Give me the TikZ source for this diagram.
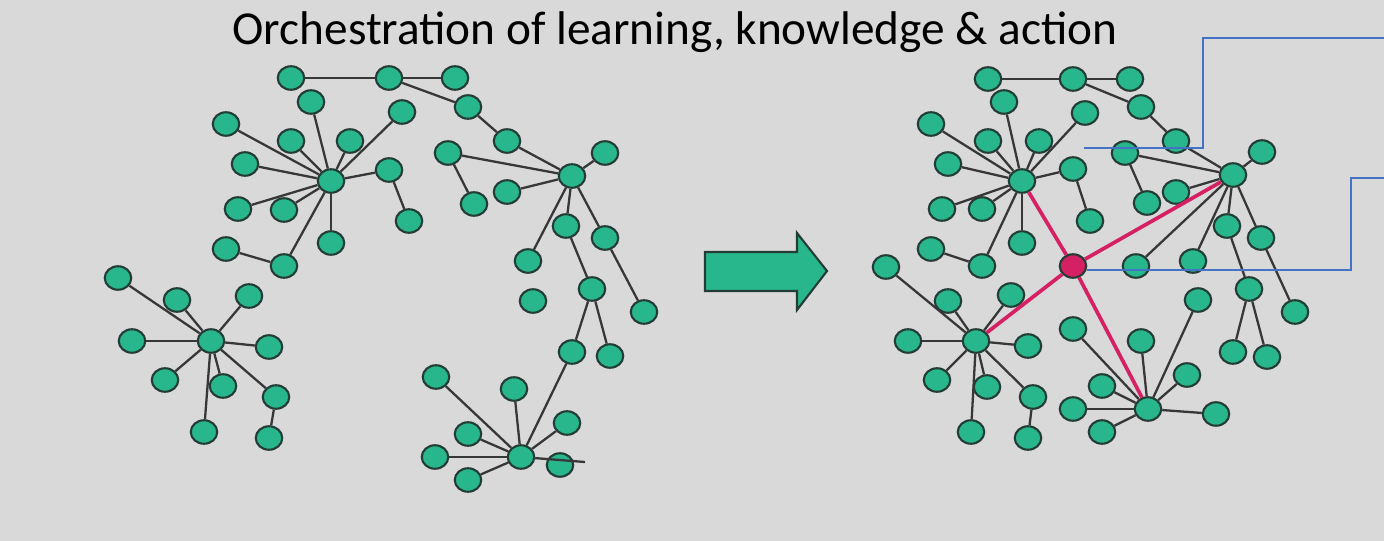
\documentclass[tikz,border=0pt]{standalone}
\usepackage{fontspec}
\setmainfont{Carlito}
\usetikzlibrary{shapes.geometric}
\definecolor{bggray}{RGB}{217,217,217}
\definecolor{nodegreen}{RGB}{40,182,140}
\definecolor{nodeedge}{RGB}{35,60,52}
\definecolor{linkgray}{RGB}{55,55,55}
\definecolor{hubred}{RGB}{214,32,100}
\definecolor{callblue}{RGB}{68,114,196}

\begin{document}
\begin{tikzpicture}[x=0.02cm, y=-0.02cm,
    dot/.style={ellipse, fill=nodegreen, draw=nodeedge, line width=1.2pt,
      minimum width=0.53cm, minimum height=0.47cm, inner sep=0pt},
    hotdot/.style={dot, fill=hubred},
    link/.style={draw=linkgray, line width=1.3pt},
    hotlink/.style={draw=hubred, line width=2.1pt},
    callout/.style={draw=callblue, line width=0.6pt}]
    \fill[bggray] (0,0) rectangle (1384,541);
    \useasboundingbox (0,0) rectangle (1384,541);

    \node[anchor=base, font=\fontsize{26.9}{30}\selectfont] (title) at (675,45)
      {Orchestration of learning, knowledge \& action};

    % before
    \foreach \n/\x/\y in {la/331/181, lb/572/176, lc/521/457, ld/211/341,
        l1/291/78, l2/389/78, l3/455/78, l4/311/102, l5/468/107, l6/402/112,
        l7/226/124, l8/291/141, l9/350/141, l10/507/141, l11/448/153,
        l12/605/153, l13/245/164, l14/389/170, l15/507/192, l16/474/204,
        l17/238/209, l18/284/210, l19/409/221, l20/566/226, l21/605/238,
        l22/331/243, l23/226/249, l24/528/261, l25/284/266, l26/118/278,
        l27/592/289, l28/249/296, l29/177/300, l30/533/301, l31/644/312,
        l32/132/341, l33/269/347, l34/572/352, l35/610/356, l36/436/377,
        l37/165/380, l38/223/386, l39/514/389, l40/276/397, l41/567/423,
        l42/468/434, l43/204/432, l44/269/438, l45/435/457, l46/560/465,
        l47/468/480}
      \node[dot] (\n) at (\x,\y) {};
    \coordinate (lend) at (585,462);
    \foreach \a/\b in {l1/l2, l2/l3, l2/l5, l5/l10, l10/lb,
        la/l4, la/l7, la/l8, la/l9, la/l6, la/l13, la/l14, la/l17, la/l18,
        la/l22, la/l25, l14/l19, l23/l25,
        lb/l11, lb/l15, lb/l12, lb/l24, lb/l20, lb/l21,
        l11/l16, l20/l27, l21/l31, l27/l34, l27/l35, l34/lc,
        lc/l36, lc/l39, lc/l42, lc/l41, lc/l45, lc/l47, lc/lend,
        ld/l26, ld/l29, ld/l28, ld/l32, ld/l33, ld/l37, ld/l38, ld/l40,
        ld/l43, l40/l44}
      \draw[link] (\a) -- (\b);

    % arrow
    \draw[fill=nodegreen, draw=nodeedge, line width=1.2pt, line join=miter]
      (705,252) -- (797,252) -- (797,233) -- (827,271) -- (797,310)
      -- (797,291) -- (705,291) -- cycle;

    % after
    \foreach \n/\x/\y in {ra/1022/181, rb/1233/175, rc/1148/409, rd/976/341,
        r1/988/79, r2/1073/79, r3/1130/79, r4/1004/102, r5/1141/107,
        r6/1085/113, r7/931/124, r8/988/141, r9/1039/141, r10/1176/141,
        r11/1125/153, r12/1262/152, r13/948/164, r14/1073/169, r15/1176/192,
        r16/1147/203, r17/942/209, r18/982/209, r19/1090/221, r20/1227/226,
        r21/1261/238, r22/1022/243, r23/931/249, r24/1136/266, r25/982/266,
        r26/886/267, r27/1249/289, r28/1011/295, r29/948/301, r30/1193/261,
        r31/1295/312, r32/908/341, r33/1028/346, r34/1233/352, r35/1267/357,
        r36/1073/329, r37/937/380, r38/987/387, r39/1141/341, r40/1033/397,
        r41/1198/300, r42/1187/375, r43/971/432, r44/1028/438, r45/1073/409,
        r46/1216/414, r47/1102/432, r48/1102/386}
      \node[dot] (\n) at (\x,\y) {};
    \node[hotdot] (rx) at (1073,266) {};
    \foreach \a/\b in {r1/r2, r2/r3, r2/r5, r5/r10, r10/rb,
        ra/r4, ra/r7, ra/r8, ra/r9, ra/r6, ra/r13, ra/r14, ra/r17, ra/r18,
        ra/r22, ra/r25, r14/r19, r23/r25,
        rb/r11, rb/r15, rb/r12, rb/r24, rb/r30, rb/r20, rb/r21,
        r11/r16, r20/r27, r21/r31, r27/r34, r27/r35,
        rc/r41, rc/r36, rc/r39, rc/r42, rc/r48, rc/r45, rc/r47, rc/r46,
        rd/r26, rd/r29, rd/r28, rd/r32, rd/r33, rd/r37, rd/r38, rd/r40,
        rd/r43, r40/r44}
      \draw[link] (\a) -- (\b);
    \foreach \h in {ra, rb, rc, rd}
      \draw[hotlink] (rx) -- (\h);

    % callouts
    \coordinate (tipa) at (1084,148);
    \coordinate (benda) at (1203,148);
    \coordinate (enda) at (1384,38);
    \coordinate (bendb) at (1351,270);
    \coordinate (endb) at (1384,178);
    \draw[callout] (tipa) -- (benda) |- (enda);
    \draw[callout] (rx.east |- bendb) -- (bendb) |- (endb);
  \end{tikzpicture}
\end{document}
